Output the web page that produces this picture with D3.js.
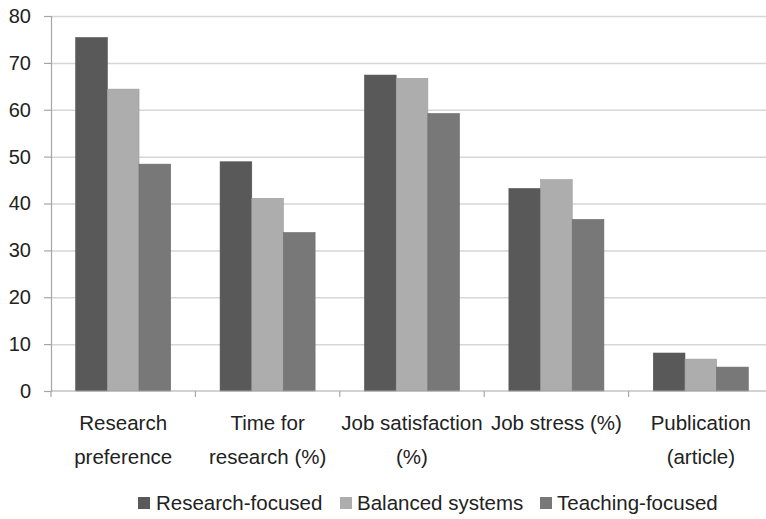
<!DOCTYPE html>
<html>
<head>
<meta charset="utf-8">
<script src="https://cdn.jsdelivr.net/npm/d3@7"></script>
<style>
  html, body { margin: 0; padding: 0; background: #fff; }
  svg { display: block; font-family: "Liberation Sans", Arial, sans-serif; }
</style>
</head>
<body>
<svg id="chart" width="766" height="519"></svg>
<script>
// Categories (each drawn on two lines where wrapped)
const categories = ["Research preference", "Time for research (%)", "Job satisfaction (%)", "Job stress (%)", "Publication (article)"];
const categoryLines = [["Research", "preference"], ["Time for", "research (%)"], ["Job satisfaction", "(%)"], ["Job stress (%)"], ["Publication", "(article)"]];

const seriesNames = ["Research-focused", "Balanced systems", "Teaching-focused"];
const researchFocused = [75.4, 48.9, 67.4, 43.2, 8.1];
const balancedSystems = [64.4, 41.1, 66.7, 45.1, 6.8];
const teachingFocused = [48.4, 33.8, 59.2, 36.6, 5.1];
const seriesValues = [researchFocused, balancedSystems, teachingFocused];
const yTicks = [0, 10, 20, 30, 40, 50, 60, 70, 80];

const colors = ["#595959", "#adadad", "#787878"];

const svg = d3.select("#chart");
const plotLeft = 51, plotBottom = 391, plotTop = 16, step = 144.4;

const x0 = d3.scaleBand().domain(categories).range([plotLeft, plotLeft + step * categories.length]).padding(0);
const x1 = d3.scaleBand().domain(seriesNames).range([0, x0.bandwidth()]).paddingInner(0).paddingOuter(0.78);
const y = d3.scaleLinear().domain([0, 80]).range([plotBottom, plotTop]);
const color = d3.scaleOrdinal().domain(seriesNames).range(colors);

// Horizontal gridlines
svg.append("g")
  .selectAll("line")
  .data(yTicks.filter(t => t > 0))
  .join("line")
  .attr("x1", plotLeft).attr("x2", 766)
  .attr("y1", d => y(d) + 0.5).attr("y2", d => y(d) + 0.5)
  .attr("stroke", "#d6d6d6").attr("stroke-width", 1.5);

// Bars
const groups = svg.append("g")
  .selectAll("g")
  .data(categories)
  .join("g")
  .attr("transform", d => `translate(${x0(d)},0)`);

groups.selectAll("rect")
  .data((d, i) => seriesNames.map((s, j) => ({ s, v: seriesValues[j][i] })))
  .join("rect")
  .attr("x", d => x1(d.s))
  .attr("y", d => y(d.v))
  .attr("width", x1.bandwidth())
  .attr("height", d => y(0) - y(d.v))
  .attr("fill", d => color(d.s))
  .attr("stroke", d => d3.color(color(d.s)).darker(0.3))
  .attr("stroke-width", 0.6);

// Y axis
const yAxis = svg.append("g")
  .attr("transform", `translate(${plotLeft},0)`)
  .call(d3.axisLeft(y).tickValues(yTicks).tickSize(7).tickPadding(13).tickFormat(d3.format("d")));
yAxis.select(".domain").attr("stroke", "#a6a6a6").attr("stroke-width", 1.2);
yAxis.selectAll(".tick line").attr("stroke", "#a6a6a6").attr("stroke-width", 1.2);
yAxis.selectAll("text").attr("font-size", 20).attr("fill", "#222")
  .attr("font-family", "Liberation Sans, Arial, sans-serif");

// X axis line with category boundary ticks
svg.append("line")
  .attr("x1", plotLeft).attr("x2", 766)
  .attr("y1", plotBottom).attr("y2", plotBottom)
  .attr("stroke", "#a6a6a6").attr("stroke-width", 1.2);
svg.append("g")
  .selectAll("line")
  .data(categories)
  .join("line")
  .attr("x1", d => x0(d)).attr("x2", d => x0(d))
  .attr("y1", plotBottom).attr("y2", plotBottom + 6)
  .attr("stroke", "#a6a6a6").attr("stroke-width", 1.2);

// Category labels
svg.append("g")
  .selectAll("text")
  .data(categories)
  .join("text")
  .attr("text-anchor", "middle")
  .attr("font-size", 20.5)
  .attr("fill", "#222")
  .each(function (d, i) {
    const cx = x0(d) + x0.bandwidth() / 2;
    d3.select(this).selectAll("tspan")
      .data(categoryLines[i])
      .join("tspan")
      .attr("x", cx)
      .attr("y", (t, k) => 430 + k * 34)
      .text(t => t);
  });

// Legend
const legendItems = [
  { name: seriesNames[0], sx: 138, tx: 156 },
  { name: seriesNames[1], sx: 340, tx: 357 },
  { name: seriesNames[2], sx: 540, tx: 557 }
];
const legend = svg.append("g");
legend.selectAll("rect")
  .data(legendItems)
  .join("rect")
  .attr("x", d => d.sx).attr("y", 497)
  .attr("width", 12).attr("height", 12)
  .attr("fill", d => color(d.name));
legend.selectAll("text")
  .data(legendItems)
  .join("text")
  .attr("x", d => d.tx).attr("y", 510)
  .attr("font-size", 20.5)
  .attr("fill", "#222")
  .text(d => d.name);
</script>
</body>
</html>
